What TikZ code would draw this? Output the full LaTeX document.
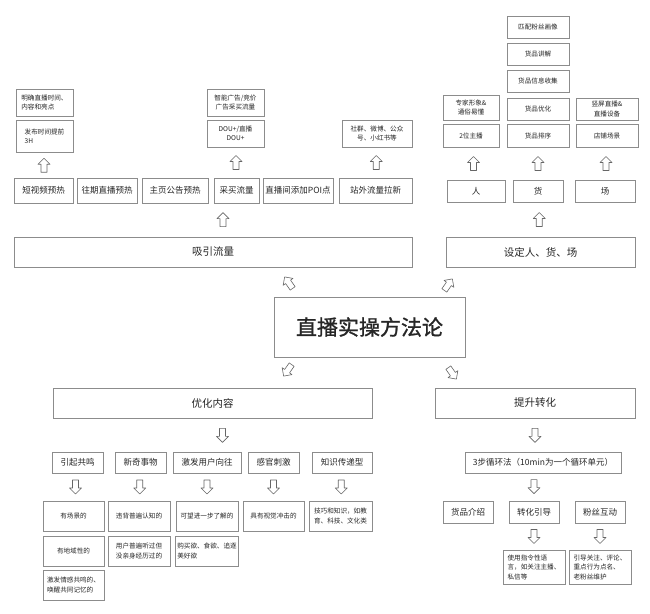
\documentclass[tikz,border=0pt]{standalone}
\usepackage{fontspec}
\setmainfont{Noto Sans CJK SC}
\newfontfamily\titlefont[FakeBold=1.2]{Noto Sans CJK SC}
\usetikzlibrary{calc, positioning}

\tikzset{
  box/.style={draw=black!45, line width=0.7pt, text=black!85, inner xsep=2pt, inner ysep=1pt, align=center},
  sbox/.style={box, font=\fontsize{6.6}{9.5}\selectfont},
  lsbox/.style={sbox, align=left},
  mbox/.style={box, font=\fontsize{8.5}{10}\selectfont},
  lbox/.style={box, font=\fontsize{10.5}{12}\selectfont},
  harrow/.pic={\draw[draw=black!60, fill=white, line width=0.6pt, line join=round] (0,-7) -- (6,-1) -- (3,-1) -- (3,7) -- (-3,7) -- (-3,-1) -- (-6,-1) -- cycle;}
}

\begin{document}
\begin{tikzpicture}[x=1pt, y=-1pt]
  \fill[white] (0,0) rectangle (650,613);
  \useasboundingbox (0,0) rectangle (650,613);

  % warm-up details
  \node[lsbox, minimum width=57, minimum height=27] (warmA) at (44.5,102.5) {明确直播时间、\\内容和亮点};
  \node[lsbox, minimum width=57, minimum height=32] (warmB) at (44.5,136.5) {发布时间提前\\3H};
  \node[sbox, minimum width=57, minimum height=27] (adA) at (235.5,102.5) {智能广告/竞价\\广告采买流量};
  \node[sbox, minimum width=57, minimum height=27] (adB) at (235.5,133.5) {DOU+/直播\\DOU+};
  \node[sbox, minimum width=70, minimum height=27] (social) at (377,133.5) {社群、微博、公众\\号、小红书等};

  % traffic channels
  \node[mbox, minimum width=59, minimum height=25] (video) at (43.5,190.5) {短视频预热};
  \node[mbox, minimum width=60, minimum height=25] (past) at (107,190.5) {往期直播预热};
  \node[mbox, minimum width=66, minimum height=25] (home) at (175,190.5) {主页公告预热};
  \node[mbox, minimum width=45, minimum height=25] (buy) at (236.5,190.5) {采买流量};
  \node[mbox, minimum width=70, minimum height=25] (poi) at (298,190.5) {直播间添加POI点};
  \node[mbox, minimum width=73, minimum height=25] (outside) at (375.5,190.5) {站外流量拉新};
  \pic at ($(video.north)!0.5!(warmB.south)$) {harrow};
  \pic at ($(buy.north)!0.5!(adB.south)$) {harrow};
  \pic at ($(outside.north)!0.5!(social.south)$) {harrow};

  % people, goods, place
  \node[sbox, minimum width=62, minimum height=22] (fans) at (538,27) {匹配粉丝画像};
  \node[sbox, minimum width=62, minimum height=22] (explain) at (538,54) {货品讲解};
  \node[sbox, minimum width=62, minimum height=22] (collect) at (538,81) {货品信息收集};
  \node[sbox, minimum width=62, minimum height=22] (optim) at (538,109) {货品优化};
  \node[sbox, minimum width=62, minimum height=23] (sort) at (538,135.5) {货品排序};
  \node[sbox, minimum width=56, minimum height=25] (expert) at (471,107.5) {专家形象\&\\通俗易懂};
  \node[sbox, minimum width=56, minimum height=23] (hosts) at (471,135.5) {2位主播};
  \node[sbox, minimum width=62, minimum height=22] (vertical) at (607,109) {竖屏直播\&\\直播设备};
  \node[sbox, minimum width=62, minimum height=23] (store) at (607,135.5) {店铺场景};
  \node[mbox, minimum width=58, minimum height=22] (person) at (476,191) {人};
  \node[mbox, minimum width=50, minimum height=22] (goods) at (538,191) {货};
  \node[mbox, minimum width=60, minimum height=22] (place) at (605,191) {场};
  \pic at ($(person.north)!0.5!(hosts.south)$) {harrow};
  \pic at ($(goods.north)!0.5!(sort.south)$) {harrow};
  \pic at ($(place.north)!0.5!(store.south)$) {harrow};

  % main branches
  \node[lbox, minimum width=398, minimum height=30] (attract) at (213,252) {吸引流量};
  \node[lbox, minimum width=189, minimum height=30] (setup) at (540.5,252) {设定人、货、场};
  \node[box, font=\titlefont\fontsize{21}{24}\selectfont, minimum width=191, minimum height=60] (title) at (369.5,327) {直播实操方法论};
  \node[lbox, minimum width=319, minimum height=30] (content) at (212.5,403) {优化内容};
  \node[lbox, minimum width=200, minimum height=30] (convert) at (535,403) {提升转化};
  \pic at ($(attract.north)+(10,-17)$) {harrow};
  \pic at ($(setup.north)!0.5!(goods.south)$) {harrow};
  \pic[rotate=35] at ($(title.north west)+(15,-14)$) {harrow};
  \pic[rotate=-35] at ($(title.north east)+(-17,-12)$) {harrow};
  \pic[rotate=145] at ($(title.south west)+(14,13)$) {harrow};
  \pic[rotate=-145] at ($(title.south east)+(-13,16)$) {harrow};
  \pic[rotate=180] at ($(content.south)+(10,17)$) {harrow};
  \pic[rotate=180] at ($(convert.south)+(0,17)$) {harrow};

  % content types
  \node[mbox, minimum width=51, minimum height=21] (resonance) at (77.5,462.5) {引起共鸣};
  \node[mbox, minimum width=51, minimum height=21] (novel) at (140.5,462.5) {新奇事物};
  \node[mbox, minimum width=68, minimum height=21] (desire) at (207,462.5) {激发用户向往};
  \node[mbox, minimum width=51, minimum height=21] (sense) at (273.5,462.5) {感官刺激};
  \node[mbox, minimum width=60, minimum height=21] (knowledge) at (342,462.5) {知识传递型};
  \node[sbox, minimum width=61, minimum height=30] (scene) at (73.5,516) {有场景的};
  \node[sbox, minimum width=61, minimum height=30] (region) at (73.5,551) {有地域性的};
  \node[lsbox, minimum width=61, minimum height=30] (emotion) at (73.5,585) {激发情感共鸣的、\\唤醒共同记忆的};
  \node[sbox, minimum width=62, minimum height=30] (against) at (139,516) {违背普遍认知的};
  \node[lsbox, minimum width=62, minimum height=30] (heard) at (139,551) {用户普遍听过但\\没亲身经历过的};
  \node[sbox, minimum width=62, minimum height=30] (eager) at (207,516) {可望进一步了解的};
  \node[lsbox, minimum width=62, minimum height=30] (appetite) at (207,551) {购买欲、食欲、追逐\\美好欲};
  \node[sbox, minimum width=61, minimum height=30] (visual) at (273.5,516) {具有视觉冲击的};
  \node[lsbox, minimum width=63, minimum height=30] (skill) at (340.5,516) {技巧和知识，如教\\育、科技、文化类};
  \pic[rotate=180] at ($(resonance.south)!0.5!(scene.north)$) {harrow};
  \pic[rotate=180] at ($(novel.south)!0.5!(against.north)$) {harrow};
  \pic[rotate=180] at ($(desire.south)!0.5!(eager.north)$) {harrow};
  \pic[rotate=180] at ($(sense.south)!0.5!(visual.north)$) {harrow};
  \pic[rotate=180] at ($(knowledge.south)!0.5!(skill.north)$) {harrow};

  % conversion loop
  \node[mbox, minimum width=156, minimum height=21] (cycle) at (543,462.5) {3步循环法（10min为一个循环单元）};
  \node[mbox, minimum width=50, minimum height=22] (intro) at (468,512) {货品介绍};
  \node[mbox, minimum width=50, minimum height=22] (guide) at (534,512) {转化引导};
  \node[mbox, minimum width=50, minimum height=22] (interact) at (600,512) {粉丝互动};
  \node[lsbox, minimum width=62, minimum height=34] (command) at (534,567) {使用指令性语\\言，如关注主播、\\私信等};
  \node[lsbox, minimum width=62, minimum height=34] (follow) at (600,567) {引导关注、评论、\\重点行为点名、\\老粉丝维护};
  \pic[rotate=180] at ($(guide.north)+(0,-14)$) {harrow};
  \pic[rotate=180] at ($(guide.south)!0.5!(command.north)$) {harrow};
  \pic[rotate=180] at ($(interact.south)!0.5!(follow.north)$) {harrow};
\end{tikzpicture}
\end{document}
